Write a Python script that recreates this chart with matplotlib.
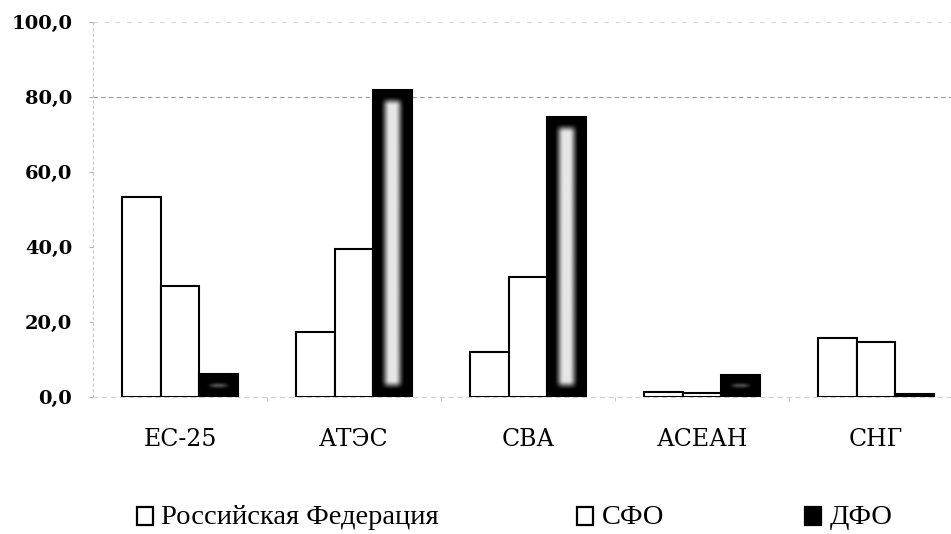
import numpy as np
import matplotlib
matplotlib.use('Agg')
import matplotlib.pyplot as plt
from matplotlib.patches import Patch

categories = ['ЕС-25', 'АТЭС', 'СВА', 'АСЕАН', 'СНГ']
series_names = ['Российская Федерация', 'СФО', 'ДФО']
rf = [53.3, 17.3, 12.1, 1.3, 15.7]
sfo = [29.6, 39.4, 32.0, 1.1, 14.7]
dfo = [6.1, 81.9, 74.7, 6.0, 0.8]
yticks = [0, 20, 40, 60, 80, 100]
ytick_labels = ['0,0', '20,0', '40,0', '60,0', '80,0', '100,0']

W, H = 951, 534
fig = plt.figure(figsize=(W / 100, H / 100), dpi=100)
ax = fig.add_axes([93 / W, (H - 397) / H, (951 - 93) / W, 375 / H])
x = np.arange(len(categories))
bw = 0.224
XL = (-0.5, -0.5 + 858 / 174)
YL = (0, 100)
ax.set_xlim(*XL)
ax.set_ylim(*YL)

ax.bar(x - bw, rf, bw, facecolor='white', edgecolor='black', linewidth=1.5, zorder=3)
ax.bar(x, sfo, bw, facecolor='white', edgecolor='black', linewidth=1.5, zorder=3)
dbars = ax.bar(x + bw, dfo, bw, facecolor='black', edgecolor='black', linewidth=1.5, zorder=3)


def smooth(t):
    t = np.clip(t, 0, 1)
    return t * t * (3 - 2 * t)


# glow gradient inside dark bars
fig.canvas.draw()
for rect in dbars:
    x0, y0 = rect.get_x(), rect.get_y()
    w, h = rect.get_width(), rect.get_height()
    p0 = ax.transData.transform((x0, y0))
    p1 = ax.transData.transform((x0 + w, y0 + h))
    wpx, hpx = abs(p1[0] - p0[0]), abs(p1[1] - p0[1])
    nx, ny = max(int(wpx), 2), max(int(hpx), 2)
    xs = (np.arange(nx) + 0.5) * wpx / nx
    ys = (np.arange(ny) + 0.5) * hpx / ny
    dx = np.minimum(xs, wpx - xs)[None, :]
    dy = np.minimum(ys, hpx - ys)[:, None]
    b = smooth((dx - 7) / 10.0) * smooth((dy - 7) / 10) * 0.9
    im = ax.imshow(b, cmap='gray', vmin=0, vmax=1, extent=(x0, x0 + w, y0, y0 + h),
                   aspect='auto', origin='lower', interpolation='bilinear', zorder=3.5)
    im.set_clip_path(rect)
ax.set_xlim(*XL)
ax.set_ylim(*YL)
ax.set_aspect('auto')

# faint grid lines
ax.axhline(80, color='#9a9a9a', linestyle=(0, (4, 3)), linewidth=0.8, zorder=1)
ax.axhline(100, color='#d5d5d5', linestyle=(0, (4, 6)), linewidth=0.8, zorder=1)

for s in ['top', 'right']:
    ax.spines[s].set_visible(False)
ax.spines['left'].set_color('#c8c8c8')
ax.spines['left'].set_linestyle((0, (2, 3)))
ax.spines['left'].set_linewidth(0.8)
ax.spines['bottom'].set_color('#d0d0d0')
ax.spines['bottom'].set_linestyle((0, (4, 4)))
ax.spines['bottom'].set_linewidth(0.8)

ax.set_yticks(yticks)
ax.set_yticklabels(ytick_labels, fontfamily='DejaVu Serif', fontweight='bold', fontsize=14)
ax.tick_params(axis='y', length=3, color='#b0b0b0', pad=12)
ax.set_xticks(x)
ax.set_xticklabels(categories, fontfamily='DejaVu Serif', fontsize=17)
ax.set_xticks(np.arange(len(categories) - 1) + 0.5, minor=True)
ax.tick_params(axis='x', which='major', length=0, pad=22)
ax.tick_params(axis='x', which='minor', length=3, color='#c0c0c0')

handles = [Patch(facecolor='white', edgecolor='black', linewidth=1.6),
           Patch(facecolor='white', edgecolor='black', linewidth=1.6),
           Patch(facecolor='black', edgecolor='black', linewidth=1.6)]
legend_x = [137, 577, 805]
for hnd, name, lx in zip(handles, series_names, legend_x):
    leg = fig.legend([hnd], [name], loc='center left', bbox_to_anchor=(lx / W, 1 - 517 / H),
                     frameon=False, handlelength=0.56, handleheight=0.56, handletextpad=0.3,
                     borderpad=0, borderaxespad=0,
                     prop={'family': 'Liberation Serif', 'size': 20.5})
    r = leg.legend_handles[0]
    r.set_y(r.get_y() - 1.8)

fig.savefig('out.png', dpi=100)
